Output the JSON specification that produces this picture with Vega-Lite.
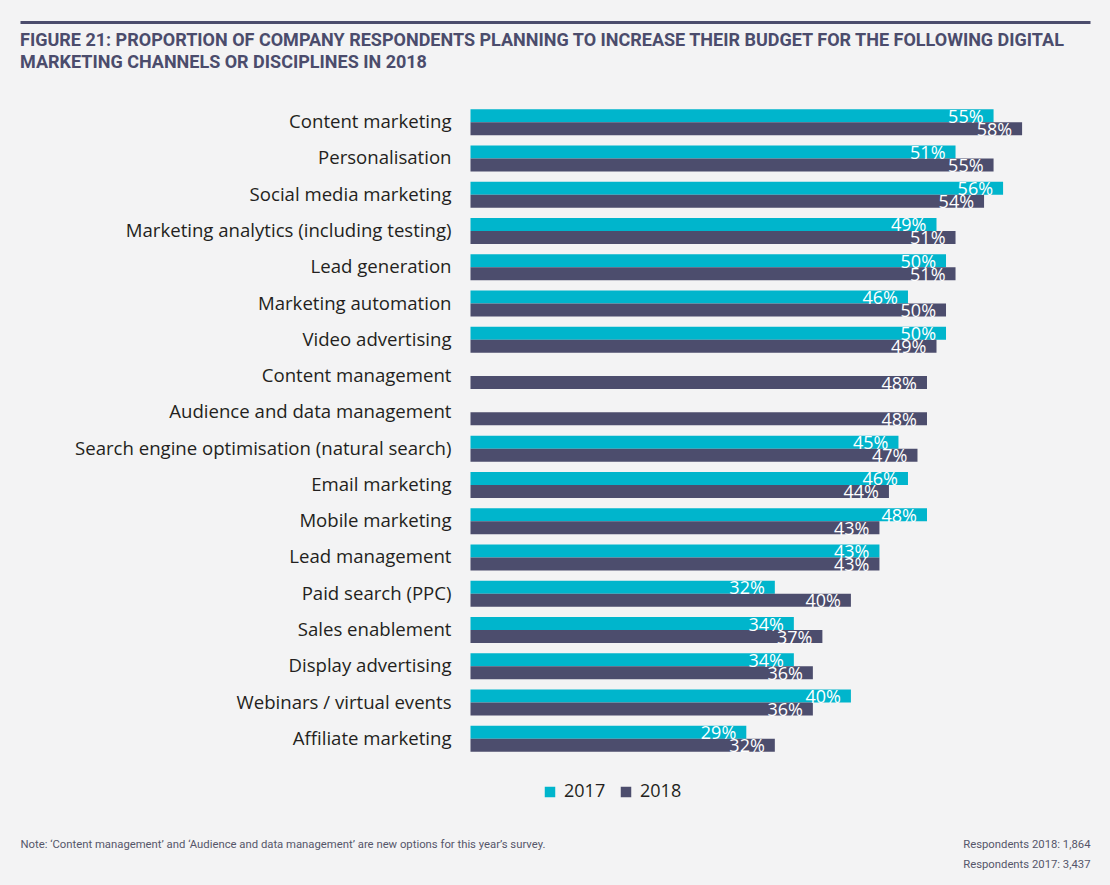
{
  "$schema": "https://vega.github.io/schema/vega-lite/v6.json",
  "width": 1070,
  "height": 653,
  "autosize": "none",
  "padding": {"left": 20, "top": 104, "right": 20, "bottom": 128},
  "background": "#f3f3f4",
  "config": {
    "view": {"stroke": null},
    "font": "Open Sans",
    "axis": {"grid": false}
  },
  "title": {
    "text": ["FIGURE 21: PROPORTION OF COMPANY RESPONDENTS PLANNING TO INCREASE THEIR BUDGET FOR THE FOLLOWING DIGITAL", "MARKETING CHANNELS OR DISCIPLINES IN 2018"],
    "anchor": "start",
    "frame": "group",
    "font": "Roboto",
    "fontSize": 18,
    "fontWeight": "bold",
    "color": "#4b4c6c",
    "lineHeight": 22,
    "baseline": "alphabetic",
    "offset": 0,
    "dy": 64
  },
  "data": {
    "values": [
      {"channel": "Content marketing", "year": "2017", "value": 0.55},
      {"channel": "Content marketing", "year": "2018", "value": 0.58},
      {"channel": "Personalisation", "year": "2017", "value": 0.51},
      {"channel": "Personalisation", "year": "2018", "value": 0.55},
      {"channel": "Social media marketing", "year": "2017", "value": 0.56},
      {"channel": "Social media marketing", "year": "2018", "value": 0.54},
      {"channel": "Marketing analytics (including testing)", "year": "2017", "value": 0.49},
      {"channel": "Marketing analytics (including testing)", "year": "2018", "value": 0.51},
      {"channel": "Lead generation", "year": "2017", "value": 0.50},
      {"channel": "Lead generation", "year": "2018", "value": 0.51},
      {"channel": "Marketing automation", "year": "2017", "value": 0.46},
      {"channel": "Marketing automation", "year": "2018", "value": 0.50},
      {"channel": "Video advertising", "year": "2017", "value": 0.50},
      {"channel": "Video advertising", "year": "2018", "value": 0.49},
      {"channel": "Content management", "year": "2018", "value": 0.48},
      {"channel": "Audience and data management", "year": "2018", "value": 0.48},
      {"channel": "Search engine optimisation (natural search)", "year": "2017", "value": 0.45},
      {"channel": "Search engine optimisation (natural search)", "year": "2018", "value": 0.47},
      {"channel": "Email marketing", "year": "2017", "value": 0.46},
      {"channel": "Email marketing", "year": "2018", "value": 0.44},
      {"channel": "Mobile marketing", "year": "2017", "value": 0.48},
      {"channel": "Mobile marketing", "year": "2018", "value": 0.43},
      {"channel": "Lead management", "year": "2017", "value": 0.43},
      {"channel": "Lead management", "year": "2018", "value": 0.43},
      {"channel": "Paid search (PPC)", "year": "2017", "value": 0.32},
      {"channel": "Paid search (PPC)", "year": "2018", "value": 0.40},
      {"channel": "Sales enablement", "year": "2017", "value": 0.34},
      {"channel": "Sales enablement", "year": "2018", "value": 0.37},
      {"channel": "Display advertising", "year": "2017", "value": 0.34},
      {"channel": "Display advertising", "year": "2018", "value": 0.36},
      {"channel": "Webinars / virtual events", "year": "2017", "value": 0.40},
      {"channel": "Webinars / virtual events", "year": "2018", "value": 0.36},
      {"channel": "Affiliate marketing", "year": "2017", "value": 0.29},
      {"channel": "Affiliate marketing", "year": "2018", "value": 0.32}
    ]
  },
  "encoding": {
    "y": {
      "field": "channel",
      "type": "nominal",
      "sort": null,
      "scale": {"paddingInner": 0.284, "paddingOuter": 0.142}
    },
    "yOffset": {
      "field": "year",
      "type": "nominal",
      "scale": {"domain": ["2017", "2018"], "paddingInner": 0, "paddingOuter": 0}
    },
    "x": {
      "field": "value",
      "type": "quantitative",
      "scale": {"domain": [-0.4737, 0.6514], "nice": false}
    }
  },
  "layer": [
    {
      "mark": {"type": "bar"},
      "encoding": {
        "y": {
          "field": "channel",
          "type": "nominal",
          "sort": null,
          "axis": {
            "orient": "left",
            "title": null,
            "domain": false,
            "ticks": false,
            "tickSize": 0,
            "labelPadding": -431,
            "labelAlign": "right",
            "labelFont": "Open Sans",
            "labelFontSize": 18.6,
            "labelColor": "#231f20",
            "labelLimit": 0
          }
        },
        "x": {
          "field": "value",
          "type": "quantitative",
          "axis": {
            "orient": "top",
            "title": null,
            "labels": false,
            "ticks": false,
            "domain": true,
            "domainColor": "#4b4c6c",
            "domainWidth": 3,
            "offset": 82
          }
        },
        "color": {
          "field": "year",
          "type": "nominal",
          "scale": {"domain": ["2017", "2018"], "range": ["#00b5cc", "#4c4d6d"]},
          "legend": {
            "orient": "none",
            "direction": "horizontal",
            "legendX": 521,
            "legendY": 679,
            "title": null,
            "symbolType": "square",
            "symbolSize": 110,
            "symbolStrokeWidth": 0,
            "labelFont": "Open Sans",
            "labelFontSize": 18,
            "labelColor": "#231f20",
            "labelOffset": 5,
            "columnPadding": 11,
            "padding": 0
          }
        }
      }
    },
    {
      "mark": {"type": "text", "align": "right", "baseline": "middle", "dx": -10, "dy": 2, "color": "#ffffff", "fontSize": 18, "font": "Open Sans"},
      "encoding": {
        "text": {"field": "value", "type": "quantitative", "format": ".0%"},
        "y": {
          "field": "channel",
          "type": "nominal",
          "sort": null,
          "axis": {
            "orient": "right",
            "labels": false,
            "ticks": false,
            "domain": false,
            "title": ["Respondents 2018: 1,864", "Respondents 2017: 3,437"],
            "titleAngle": 0,
            "titleAlign": "right",
            "titleBaseline": "alphabetic",
            "titleX": 0,
            "titleY": 743,
            "titleLineHeight": 20,
            "titleFont": "Roboto",
            "titleFontSize": 11.3,
            "titleFontWeight": "normal",
            "titleColor": "#55566a"
          }
        },
        "x": {
          "field": "value",
          "type": "quantitative",
          "axis": {
            "orient": "bottom",
            "labels": false,
            "ticks": false,
            "domain": false,
            "title": "Note: \u2018Content management\u2019 and \u2018Audience and data management\u2019 are new options for this year\u2019s survey.",
            "titleAnchor": "start",
            "titleAlign": "left",
            "titleBaseline": "alphabetic",
            "titleX": 0,
            "titleY": 90,
            "titleFont": "Roboto",
            "titleFontSize": 11.3,
            "titleFontWeight": "normal",
            "titleColor": "#55566a"
          }
        }
      }
    }
  ],
  "resolve": {"axis": {"x": "independent", "y": "independent"}}
}
